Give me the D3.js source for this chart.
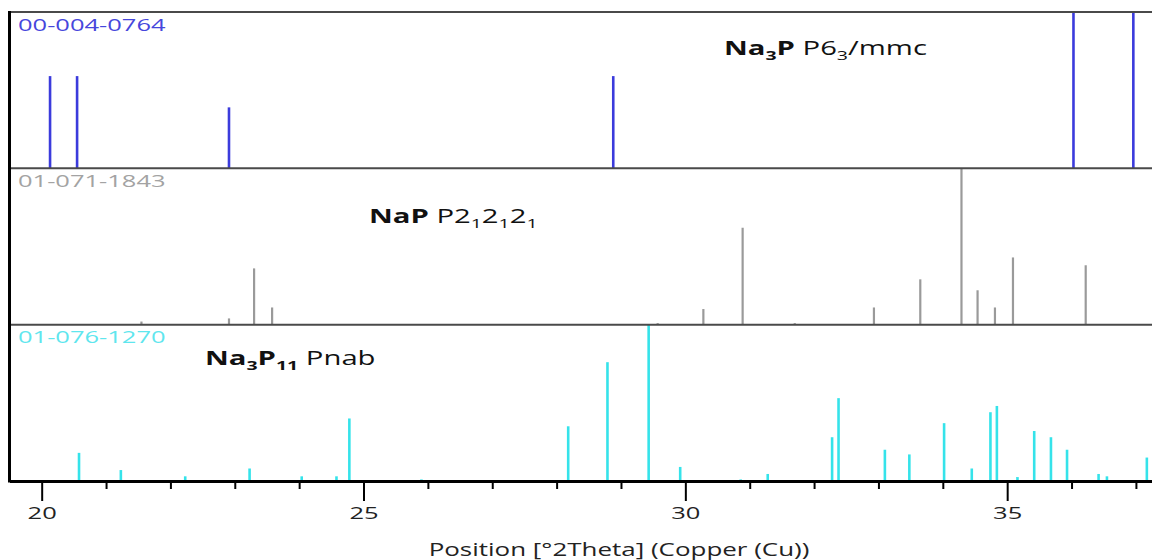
<!DOCTYPE html>
<html>
<head>
<meta charset="utf-8">
<script src="https://cdn.jsdelivr.net/npm/d3@7"></script>
<style>
  body { margin: 0; background: #fff; }
  svg { display: block; }
</style>
</head>
<body>
<svg id="chart" width="1152" height="560"></svg>
<script>
// ---- Reference pattern data (2θ positions in degrees, relative intensity %) ----
const thetaDomain = [19.5, 37.25];
const tickValues = [20, 21, 22, 23, 24, 25, 26, 27, 28, 29, 30, 31, 32, 33, 34, 35, 36, 37];
const majorTickValues = [20, 25, 30, 35];

const refCodes = ["00-004-0764", "01-071-1843", "01-076-1270"];

// Na3P, P6_3/mmc
const na3pPositions   = [20.13, 20.55, 22.91, 28.88, 36.03, 36.96];
const na3pIntensities = [59, 59, 39, 59, 100, 100];

// NaP, P2_12_12_1
const napPositions   = [21.55, 22.91, 23.30, 23.58, 29.57, 30.28, 30.89, 31.70, 32.93, 33.65, 34.29, 34.54, 34.81, 35.09, 36.22];
const napIntensities = [2, 4, 36, 11, 1, 10, 62, 1, 11, 29, 100, 22, 11, 43, 38];

// Na3P11, Pnab
const na3p11Positions   = [20.58, 21.23, 22.23, 23.23, 24.04, 24.58, 24.78, 25.90, 28.18, 28.79, 29.43, 29.92, 30.86, 31.28,
                           32.28, 32.38, 33.10, 33.48, 34.02, 34.45, 34.74, 34.84, 35.16, 35.42, 35.68, 35.93, 36.42, 36.55, 37.17];
const na3p11Intensities = [18, 7, 3, 8, 3, 3, 40, 1, 35, 76, 100, 9, 1, 4.5,
                           28, 53, 20, 17, 37, 8, 44, 48, 2.5, 32, 28, 20, 4.5, 3, 15];

// ---- Layout ----
const plotLeft = 9.5, plotRight = 1152, plotTop = 12, plotBottom = 481;
const SX = 1.5; // horizontal text stretch
const TITLE_SIZE = 19.5, SUB_SIZE = 13;

const panels = [
  { code: refCodes[0], pos: na3pPositions, inten: na3pIntensities, color: "#3b3bdc", labelColor: "#4646dc", width: 2.6,
    title: [["Na", "b"], ["3", "bs"], ["P", "b"], [" P6", "n"], ["3", "ns"], ["/mmc", "n"]], tx: 724, ty: 55 },
  { code: refCodes[1], pos: napPositions, inten: napIntensities, color: "#9a9a9a", labelColor: "#a3a3a3", width: 2.2,
    title: [["NaP", "b"], [" P2", "n"], ["1", "ns"], ["2", "n"], ["1", "ns"], ["2", "n"], ["1", "ns"]], tx: 369, ty: 223 },
  { code: refCodes[2], pos: na3p11Positions, inten: na3p11Intensities, color: "#35e3ea", labelColor: "#5fe6ee", width: 2.6,
    title: [["Na", "b"], ["3", "bs"], ["P", "b"], ["11", "bs"], [" Pnab", "n"]], tx: 205, ty: 365 }
];

const svg = d3.select("#chart");
const x = d3.scaleLinear().domain(thetaDomain).range([plotLeft, plotRight]);
const band = d3.scaleBand().domain(d3.range(panels.length)).range([plotTop, plotBottom]).paddingInner(0).paddingOuter(0);

const FONT = "'Open Sans', 'DejaVu Sans', sans-serif";

panels.forEach((p, i) => {
  const top = band(i), bottom = top + band.bandwidth();
  const y = d3.scaleLinear().domain([0, 100]).range([bottom, top]);
  const g = svg.append("g");

  // stick pattern
  g.selectAll("line.peak")
    .data(p.pos.map((v, k) => ({ t: v, I: p.inten[k] })))
    .join("line")
    .attr("class", "peak")
    .attr("x1", d => x(d.t)).attr("x2", d => x(d.t))
    .attr("y1", y(0)).attr("y2", d => y(d.I))
    .attr("stroke", p.color)
    .attr("stroke-width", p.width);

  // reference code label
  g.append("text")
    .attr("transform", `translate(18,${top + 18.5}) scale(${SX},1)`)
    .attr("font-family", FONT)
    .attr("font-size", 17)
    .attr("fill", p.labelColor)
    .text(p.code);

  // phase name with sub-scripts
  const t = g.append("text")
    .attr("transform", `translate(${p.tx},${p.ty}) scale(${SX},1)`)
    .attr("font-family", FONT)
    .attr("font-size", TITLE_SIZE)
    .attr("fill", "#111");
  let shifted = false;
  p.title.forEach(([s, st]) => {
    const sub = st.endsWith("s");
    const ts = t.append("tspan").text(s)
      .attr("font-weight", st.startsWith("b") ? 700 : 400)
      .attr("font-size", sub ? SUB_SIZE : TITLE_SIZE);
    if (sub && !shifted) { ts.attr("dy", 5); shifted = true; }
    else if (!sub && shifted) { ts.attr("dy", -5); shifted = false; }
  });
});

// panel separators and frame
const sepY = [plotTop, band(1), band(2)];
svg.selectAll("line.sep").data(sepY).join("line")
  .attr("class", "sep")
  .attr("x1", plotLeft).attr("x2", plotRight)
  .attr("y1", d => d).attr("y2", d => d)
  .attr("stroke", "#4a4a4a").attr("stroke-width", 2);

svg.append("line")
  .attr("x1", plotLeft).attr("x2", plotLeft)
  .attr("y1", plotTop - 1).attr("y2", plotBottom + 1.5)
  .attr("stroke", "#000").attr("stroke-width", 3);

// x axis
const axis = d3.axisBottom(x)
  .tickValues(tickValues)
  .tickSize(8)
  .tickSizeOuter(0)
  .tickFormat(d => majorTickValues.includes(d) ? d : "");

const ax = svg.append("g").attr("transform", `translate(0,${plotBottom})`).call(axis);
ax.select(".domain").attr("stroke", "#000").attr("stroke-width", 3);
ax.selectAll(".tick line")
  .attr("stroke", "#000").attr("stroke-width", 2)
  .attr("y2", d => majorTickValues.includes(d) ? 20 : 8);
ax.selectAll(".tick text")
  .attr("y", 38).attr("dy", 0)
  .attr("transform", `scale(${SX},1)`)
  .attr("font-family", FONT)
  .attr("font-size", 17)
  .attr("fill", "#222");

svg.append("text")
  .attr("transform", `translate(${(428 + 810) / 2},556) scale(${SX},1)`)
  .attr("text-anchor", "middle")
  .attr("font-family", FONT)
  .attr("font-size", 17.3)
  .attr("fill", "#222")
  .text("Position [°2Theta] (Copper (Cu))");
</script>
</body>
</html>
